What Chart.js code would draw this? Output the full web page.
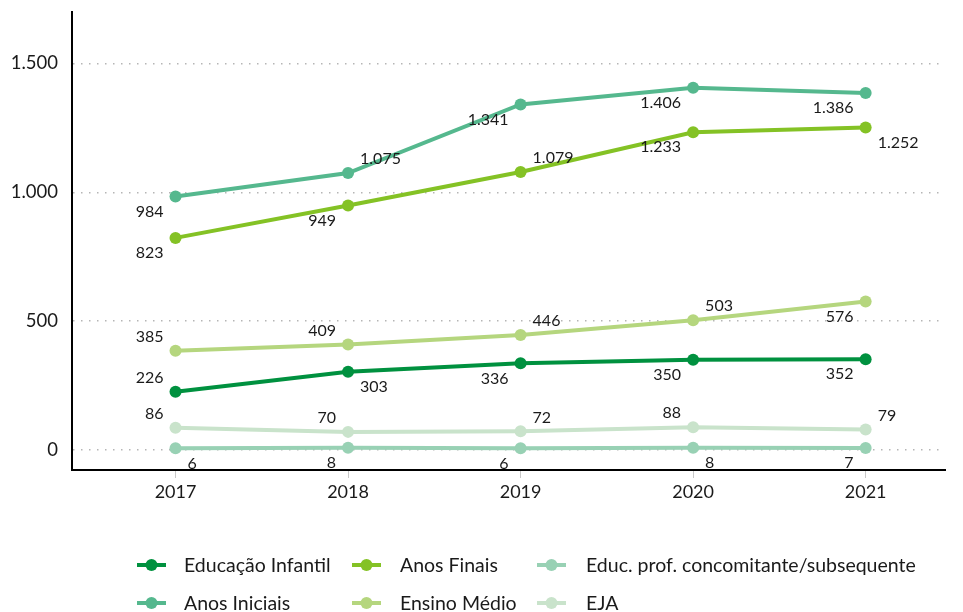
<!DOCTYPE html>
<html>
<head>
<meta charset="utf-8">
<script src="https://cdn.jsdelivr.net/npm/chart.js@4"></script>
<style>
  html, body { margin: 0; padding: 0; background: #fff; }
  #box { width: 963px; height: 612px; }
</style>
</head>
<body>
<div id="box"><canvas id="grafico"></canvas></div>
<script>
// dados do gráfico
const anos = [2017, 2018, 2019, 2020, 2021];
const educacaoInfantil = [226, 303, 336, 350, 352];
const anosIniciais = [984, 1075, 1341, 1406, 1386];
const anosFinais = [823, 949, 1079, 1233, 1252];
const ensinoMedio = [385, 409, 446, 503, 576];
const educProf = [6, 8, 6, 8, 7];
const eja = [86, 70, 72, 88, 79];
const yTicks = [0, 500, 1000, 1500];

// posição dos rótulos (a = acima, b = abaixo, l = esquerda, r = direita)
const posInfantil = ['al', 'br', 'bl', 'bl', 'bl'];
const posIniciais = ['bl', 'ar', 'bl', 'bl', 'bl'];
const posFinais = ['bl', 'bl', 'ar', 'bl', 'br'];
const posMedio = ['al', 'al', 'ar', 'ar', 'bl'];
const posProf = ['br', 'bl', 'bl', 'br', 'bl'];
const posEja = ['al', 'al', 'ar', 'al', 'ar'];

const fonte = 'Lato, "Open Sans", sans-serif';

function formatar(v) {
  return String(v).replace(/\B(?=(\d{3})+(?!\d))/g, '.');
}

function serie(nome, valores, cor, pos) {
  return {
    label: nome,
    data: anos.map((a, i) => ({ x: a, y: valores[i] })),
    borderColor: cor,
    backgroundColor: cor,
    pointBackgroundColor: cor,
    pointBorderColor: cor,
    borderWidth: 4,
    pointRadius: 6,
    pointBorderWidth: 0,
    tension: 0,
    labelPos: pos
  };
}

const datasets = [
  serie('Educação Infantil', educacaoInfantil, '#00913f', posInfantil),
  serie('Anos Iniciais', anosIniciais, '#55b88e', posIniciais),
  serie('Anos Finais', anosFinais, '#84c225', posFinais),
  serie('Ensino Médio', ensinoMedio, '#b5d67e', posMedio),
  serie('Educ. prof. concomitante/subsequente', educProf, '#98d1b4', posProf),
  serie('EJA', eja, '#c9e3cb', posEja)
];

// rótulos de dados
const rotulos = {
  id: 'rotulos',
  afterDatasetsDraw(chart) {
    const ctx = chart.ctx;
    ctx.save();
    ctx.font = '16px ' + fonte;
    ctx.fillStyle = '#1a1a1a';
    ctx.textBaseline = 'middle';
    chart.data.datasets.forEach((ds, i) => {
      chart.getDatasetMeta(i).data.forEach((pt, j) => {
        const p = ds.labelPos[j];
        const dy = p[0] === 'a' ? -14 : 15;
        if (p[1] === 'l') {
          ctx.textAlign = 'right';
          ctx.fillText(formatar(ds.data[j].y), pt.x - 12, pt.y + dy);
        } else {
          ctx.textAlign = 'left';
          ctx.fillText(formatar(ds.data[j].y), pt.x + 12, pt.y + dy);
        }
      });
    });
    ctx.restore();
  }
};

// legenda em duas linhas
const legenda = {
  id: 'legenda',
  afterDraw(chart) {
    const ctx = chart.ctx;
    const colMarca = [137, 352, 537];
    const colTexto = [184, 400, 586];
    const linhas = [565, 603];
    ctx.save();
    ctx.font = '19.5px ' + fonte;
    ctx.textBaseline = 'middle';
    ctx.textAlign = 'left';
    chart.data.datasets.forEach((ds, i) => {
      const c = Math.floor(i / 2), r = i % 2;
      const x = colMarca[c], y = linhas[r];
      ctx.strokeStyle = ds.borderColor;
      ctx.lineWidth = 4;
      ctx.beginPath();
      ctx.moveTo(x, y);
      ctx.lineTo(x + 29, y);
      ctx.stroke();
      ctx.fillStyle = ds.borderColor;
      ctx.beginPath();
      ctx.arc(x + 14.5, y, 6, 0, Math.PI * 2);
      ctx.fill();
      ctx.fillStyle = '#1a1a1a';
      ctx.fillText(ds.label, colTexto[c], y + 1);
    });
    ctx.restore();
  }
};

new Chart(document.getElementById('grafico'), {
  type: 'line',
  data: { datasets: datasets },
  options: {
    responsive: true,
    maintainAspectRatio: false,
    animation: false,
    layout: { padding: { top: 12, right: 18, bottom: 0, left: 0 } },
    plugins: {
      legend: { display: false },
      tooltip: { enabled: false }
    },
    scales: {
      x: {
        type: 'linear',
        min: 2016.4,
        max: 2021.46,
        afterBuildTicks: (s) => { s.ticks = anos.map(v => ({ value: v })); },
        afterFit: (s) => { s.height = 142; s.paddingLeft = 0; s.paddingRight = 0; },
        grid: { drawOnChartArea: false, drawTicks: true, tickLength: 8, color: '#c8c8c8' },
        border: { display: true, color: '#000', width: 2 },
        ticks: {
          padding: 3,
          color: '#1a1a1a',
          font: { family: fonte, size: 18 },
          callback: (v) => String(v)
        }
      },
      y: {
        min: -78,
        max: 1700,
        afterBuildTicks: (s) => { s.ticks = yTicks.map(v => ({ value: v })); },
        afterFit: (s) => { s.width = 72; s.paddingTop = 0; s.paddingBottom = 0; },
        grid: { color: '#b5b5b5', lineWidth: 1.5, drawTicks: false },
        border: { display: true, color: '#000', width: 2, dash: [1.5, 6.5] },
        ticks: {
          padding: 14,
          color: '#1a1a1a',
          font: { family: fonte, size: 18.5 },
          callback: (v) => formatar(v)
        }
      }
    }
  },
  plugins: [rotulos, legenda]
});
</script>
</body>
</html>
